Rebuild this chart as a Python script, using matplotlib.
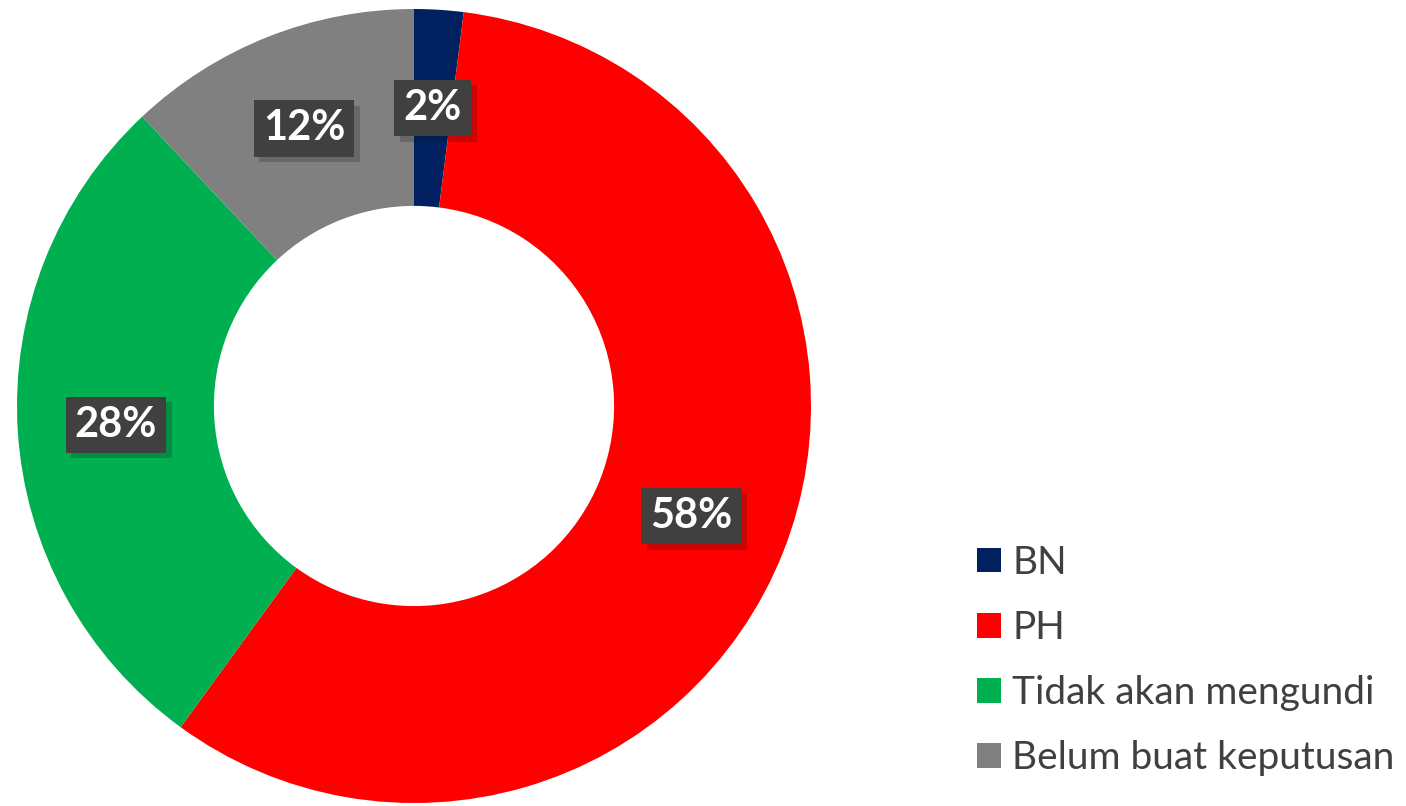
import matplotlib.pyplot as plt
import matplotlib.patheffects as pe
from matplotlib.patches import Patch

# data
kategori = ["BN", "PH", "Tidak akan mengundi", "Belum buat keputusan"]
peratus = [2, 58, 28, 12]
warna = ["#002060", "#FF0000", "#00B050", "#808080"]

fig = plt.figure(figsize=(14.06, 8.06), dpi=100)
ax = fig.add_axes([17 / 1406, 3 / 806, 794 / 1406, 794 / 806])

wedges, texts, autotexts = ax.pie(
    peratus, colors=warna, startangle=90, counterclock=False,
    radius=1, wedgeprops=dict(width=0.496, edgecolor="none"),
    autopct="%d%%", pctdistance=0.752,
    textprops=dict(color="white", fontsize=30, fontweight="bold", family="Lato"))

# kotak label gelap dengan bayang
for t in autotexts:
    t.set_bbox(dict(boxstyle="square,pad=0.22", facecolor="#404040", edgecolor="none"))
    t.get_bbox_patch().set_path_effects([
        pe.SimplePatchShadow(offset=(4, -4), alpha=0.22), pe.Normal()])

ax.set_xlim(-1, 1)
ax.set_ylim(-1, 1)
ax.set_aspect("equal")
ax.axis("off")

handles = [Patch(facecolor=c, edgecolor="none") for c in warna]
fig.legend(handles, kategori, loc="upper left", bbox_to_anchor=(0.695, 0.324),
           frameon=False, prop=dict(family="Lato", size=28),
           labelcolor="#404040", handlelength=0.6, handleheight=0.6,
           handletextpad=0.3, labelspacing=0.75, borderpad=0, borderaxespad=0)

fig.savefig("out.png", dpi=100)
